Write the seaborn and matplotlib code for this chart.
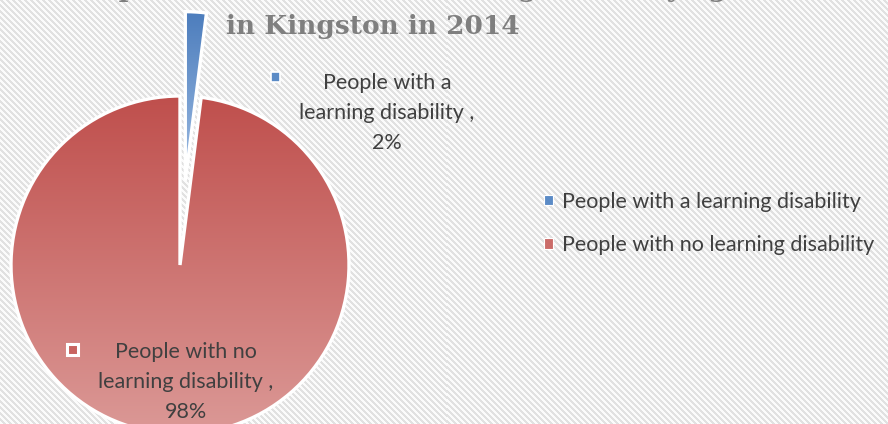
import numpy as np
import matplotlib
matplotlib.use("Agg")
import matplotlib.pyplot as plt
import seaborn as sns
from matplotlib.patches import Rectangle, Patch

# ---- data ----
categories = ["People with a learning disability", "People with no learning disability"]
values = [2, 98]
label_texts = ["People with a\nlearning disability ,\n2%", "People with no\nlearning disability ,\n98%"]
title_line1 = "Percentage of adults predicted to have a learning disability aged 18-64"
title_line2 = "in Kingston in 2014"

sns.set_theme(style="white")
plt.rcParams['font.family'] = ['Lato', 'DejaVu Sans']

W, H = 888, 424
fig = plt.figure(figsize=(W / 100, H / 100), dpi=100)

def fx(x):
    return x / W

def fy(y):
    return 1 - y / H

# striped background
bg = fig.add_axes([0, 0, 1, 1])
rows, cols = np.mgrid[0:H, 0:W]
phase = (cols - rows) % 6
stripe = np.where(phase < 3, 0.885, 0.985)
bg.imshow(np.dstack([stripe] * 3), extent=[0, W, H, 0], interpolation="nearest", aspect="auto")
bg.set_xlim(0, W)
bg.set_ylim(H, 0)
bg.axis("off")

# pie
R = 169
cx, cy = 180, 265
HB = 270
ax = fig.add_axes([fx(cx - HB), 1 - (cy + HB) / H, 2 * HB / W, 2 * HB / H])
wedges, _ = ax.pie(values, explode=[0.5, 0], startangle=90, counterclock=False, radius=1,
                   wedgeprops=dict(edgecolor="white", linewidth=2.4))
s = HB / R
grad_cols = [((0.30, 0.49, 0.74), (0.62, 0.74, 0.89)),
             ((0.75, 0.31, 0.30), (0.86, 0.60, 0.59))]
npx = 2 * HB
gx = np.linspace(-s, s, npx)
gy = np.linspace(-s, s, npx)
X, Y = np.meshgrid(gx, gy)
rgba = np.zeros((npx, npx, 4))
for w, (top, bot) in zip(wedges, grad_cols):
    wcx, wcy = w.center
    r = w.r
    t1, t2 = w.theta1, w.theta2
    ang = np.degrees(np.arctan2(Y - wcy, X - wcx))
    inside = (np.hypot(X - wcx, Y - wcy) <= r) & (((ang - t1) % 360) <= (t2 - t1))
    th = np.radians(np.linspace(t1, t2, 400))
    ys_b = np.concatenate([wcy + r * np.sin(th), [wcy]])
    ytop, ybot = ys_b.max(), ys_b.min()
    t = np.clip((ytop - Y) / (ytop - ybot), 0, 1)[..., None]
    col = np.array(top) * (1 - t) + np.array(bot) * t
    rgba[inside, :3] = col[inside]
    rgba[inside, 3] = 1.0
    w.set_facecolor("none")
ax.imshow(rgba, extent=[-s, s, -s, s], origin="lower", interpolation="bilinear",
          aspect="auto", zorder=0.5)
ax.set_xlim(-s, s)
ax.set_ylim(-s, s)
ax.set_aspect("auto")
ax.axis("off")

txt_col = "#404040"
fs = 15.5
# data labels
fig.text(fx(387), fy(113), label_texts[0], ha="center", va="center", fontsize=fs,
         color=txt_col, linespacing=1.62)
fig.text(fx(186), fy(382), label_texts[1], ha="center", va="center", fontsize=fs,
         color=txt_col, linespacing=1.62)

def square(xc, yc, size, face, edge, lw):
    fig.add_artist(Rectangle((fx(xc - size / 2), fy(yc + size / 2)), size / W, size / H,
                             transform=fig.transFigure, facecolor=face, edgecolor=edge, linewidth=lw))

square(275, 77, 9, "#5B8BC6", "white", 1.2)
square(72, 349, 11, "#C86460", "white", 2.2)

# legend
handles = [Patch(facecolor="#5B8BC6", edgecolor="white", linewidth=0.8),
           Patch(facecolor="#CB6C69", edgecolor="white", linewidth=0.8)]
fig.legend(handles, categories, loc="center left", bbox_to_anchor=(fx(544), fy(223.5)),
           frameon=False, fontsize=fs, handlelength=0.4, handleheight=0.4,
           handletextpad=0.45, labelspacing=1.1, labelcolor=txt_col, borderpad=0,
           borderaxespad=0)

# title
fig.text(fx(373), fy(34), title_line2, ha="center", va="baseline", fontsize=19,
         fontweight="bold", family="DejaVu Serif", color="#7F7F7F")
fig.text(fx(330), fy(-3.5), title_line1, ha="center", va="baseline", fontsize=19,
         fontweight="bold", family="DejaVu Serif", color="#7F7F7F")

fig.savefig("out.png", dpi=100)
